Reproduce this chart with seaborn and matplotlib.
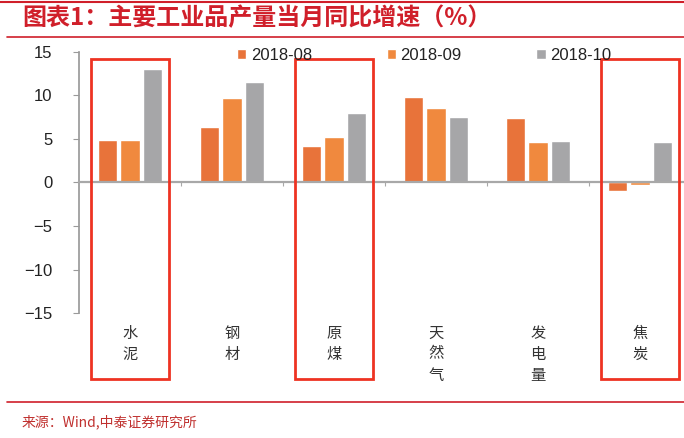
import matplotlib
matplotlib.use('Agg')
import matplotlib.pyplot as plt
import matplotlib.lines as mlines
import matplotlib.patches as mpatches
import pandas as pd
import seaborn as sns

# --- data ---
categories = ['水泥', '钢材', '原煤', '天然气', '发电量', '焦炭']
months = ['2018-08', '2018-09', '2018-10']
aug = [4.9, 6.4, 4.2, 9.8, 7.4, -1.0]
sep = [4.9, 9.7, 5.2, 8.6, 4.6, -0.3]
octo = [13.1, 11.6, 8.0, 7.5, 4.8, 4.6]
highlight = ['水泥', '原煤', '焦炭']
yticks = [15, 10, 5, 0, -5, -10, -15]

colors = ['#E8733A', '#F0893E', '#A6A6A8']
red = '#EE3322'
title_red = '#D01F2A'

df = pd.DataFrame({'cat': categories, months[0]: aug, months[1]: sep, months[2]: octo})
long = df.melt(id_vars='cat', var_name='month', value_name='val')

sns.set_theme(style='white')
plt.rcParams['font.family'] = ['Liberation Sans', 'Noto Sans CJK SC', 'DejaVu Sans']

fig = plt.figure(figsize=(6.84, 4.38), dpi=100)
ax = fig.add_axes([79 / 684, 125 / 438, 612 / 684, 261 / 438])

sns.barplot(data=long, x='cat', y='val', hue='month', palette=colors,
            width=0.66, gap=0.15, saturation=1, ax=ax)

ax.set_xlim(-0.5, len(categories) - 0.5)
ax.set_ylim(-15, 15)
ax.set_yticks(yticks)
ax.set_xlabel('')
ax.set_ylabel('')

# axes styling
for s in ['top', 'right']:
    ax.spines[s].set_visible(False)
ax.spines['left'].set_color('#9A9A9A')
ax.spines['bottom'].set_color('#A8A8A8')
ax.spines['bottom'].set_position(('data', 0))
ax.spines['bottom'].set_linewidth(1.6)
ax.tick_params(axis='y', left=True, length=4, width=0.8, color='#9A9A9A',
               pad=15, labelsize=12, labelcolor='#222222')
ax.set_xticks([])
ax.set_xticks([i + 0.5 for i in range(len(categories) - 1)], minor=True)
ax.tick_params(axis='x', which='minor', bottom=True, length=3, width=0.8,
               color='#A8A8A8', direction='out')

# vertical category labels below the plot
for i, c in enumerate(categories):
    ax.text(i, -0.045, '\n'.join(c), transform=ax.get_xaxis_transform(),
            ha='center', va='top', fontsize=11, linespacing=1.3,
            color='#333333', family=['Noto Sans CJK SC'])

# red highlight boxes
for c in highlight:
    i = categories.index(c)
    ax.add_patch(mpatches.Rectangle((i - 0.385, -22.6), 0.77, 36.8, fill=False,
                                    edgecolor=red, linewidth=2.0, clip_on=False,
                                    zorder=5))

# legend across the top
handles, labels = ax.get_legend_handles_labels()
ax.get_legend().remove()
fig.legend(handles, labels, loc='center', bbox_to_anchor=(0.620, 0.873),
           ncol=3, frameon=False, fontsize=12, handlelength=0.55,
           handleheight=0.55, handletextpad=0.25, columnspacing=4.5,
           labelcolor='#222222')

# title, rules and source
fig.text(0.032, 1 - 18 / 438, '图表1：主要工业品产量当月同比增速（%）',
         ha='left', va='center', fontsize=17.3, fontweight='bold',
         color=title_red, family=['Noto Sans CJK SC'])
fig.add_artist(mlines.Line2D([0, 1], [1 - 1.5 / 438] * 2, color=title_red, lw=1.5))
fig.add_artist(mlines.Line2D([7 / 684, 1], [1 - 37 / 438] * 2, color=title_red, lw=1.2))
fig.add_artist(mlines.Line2D([7 / 684, 1], [1 - 402 / 438] * 2, color=title_red, lw=1.2))
fig.text(0.032, 1 - 422 / 438, '来源：Wind,中泰证券研究所', ha='left', va='center',
         fontsize=10, color='#C0302E', family=['Noto Sans CJK SC'])

fig.savefig('out.png', dpi=100)
